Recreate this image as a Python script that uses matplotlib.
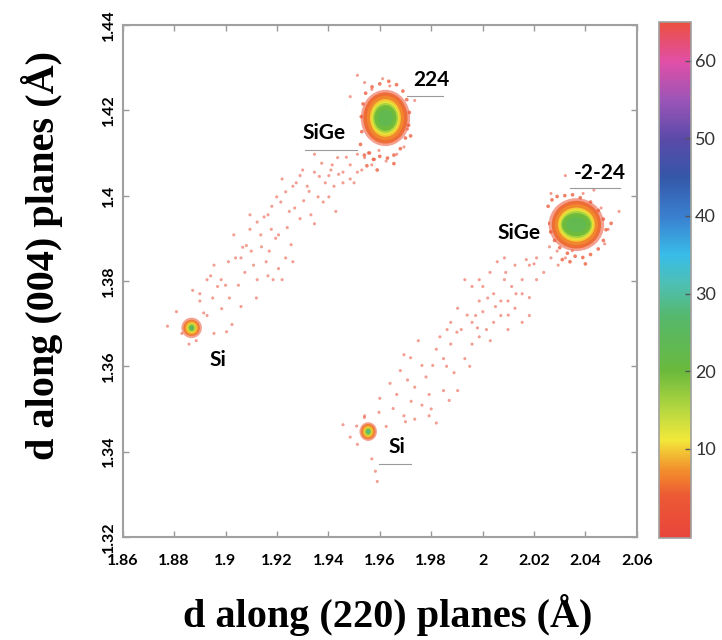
import matplotlib
matplotlib.use('Agg')
import matplotlib.pyplot as plt
from matplotlib.colors import LinearSegmentedColormap, Normalize
from matplotlib.patches import Ellipse, Rectangle
import matplotlib.cm as cm

# axes ticks
x_ticks = [1.86, 1.88, 1.90, 1.92, 1.94, 1.96, 1.98, 2.00, 2.02, 2.04, 2.06]
x_tick_labels = ['1.86', '1.88', '1.9', '1.92', '1.94', '1.96', '1.98', '2', '2.02', '2.04', '2.06']
y_ticks = [1.32, 1.34, 1.36, 1.38, 1.40, 1.42, 1.44]
y_tick_labels = ['1.32', '1.34', '1.36', '1.38', '1.4', '1.42', '1.44']
cbar_ticks = [10, 20, 30, 40, 50, 60]

# sparse counts along the (224) streak: Si -> SiGe
streak224_x = [1.8774, 1.8809, 1.8872, 1.8900, 1.8928, 1.8955, 1.9004, 1.9025, 1.8942, 1.8969,
               1.8955, 1.9032, 1.9039, 1.9060, 1.9081, 1.9095, 1.9109, 1.9123, 1.9158, 1.9165,
               1.9185, 1.9206, 1.9220, 1.9234, 1.9262, 1.9178, 1.9206, 1.9137, 1.9123, 1.9165,
               1.9199, 1.9234, 1.9248, 1.9269, 1.9290, 1.9304, 1.9332, 1.9346, 1.9290, 1.9318,
               1.9346, 1.9360, 1.9388, 1.9402, 1.9422, 1.9429, 1.9415, 1.9436, 1.9457, 1.9485,
               1.9485, 1.9513, 1.9513, 1.9541, 1.9569, 1.9597, 1.9346, 1.9374, 1.9402, 1.9457,
               1.9262, 1.9220, 1.9095, 1.9067, 1.9011, 1.8983, 1.8928, 1.8900, 1.8830, 1.8886,
               1.8858, 1.9513, 1.9541, 1.9569, 1.9611, 1.9639, 1.9485, 1.9471, 1.9736, 1.9708,
               1.9694, 1.9666, 1.9625,
               1.8985, 1.9015, 1.9050, 1.9075, 1.9100, 1.9140, 1.9150, 1.9180, 1.9215, 1.9240,
               1.9275, 1.9300, 1.9325, 1.9365, 1.9380, 1.9410, 1.9440, 1.9470, 1.9500, 1.9530,
               1.9555, 1.9580, 1.9060, 1.9000, 1.8950, 1.8915, 1.9120, 1.9170, 1.9195, 1.9255]
streak224_y = [1.3694, 1.3728, 1.3778, 1.3753, 1.3719, 1.3677, 1.3681, 1.3698, 1.3812, 1.3787,
               1.3837, 1.3908, 1.3854, 1.3854, 1.3883, 1.3955, 1.3837, 1.3803, 1.3845, 1.3812,
               1.3803, 1.3829, 1.3803, 1.3854, 1.3845, 1.3921, 1.3908, 1.3908, 1.3938, 1.3955,
               1.3997, 1.4009, 1.3963, 1.3971, 1.3946, 1.3988, 1.3955, 1.3934, 1.4047, 1.4022,
               1.4055, 1.3997, 1.4030, 1.3997, 1.4022, 1.3963, 1.4072, 1.4089, 1.4055, 1.4072,
               1.4039, 1.4055, 1.4097, 1.4089, 1.4072, 1.4106, 1.4097, 1.4076, 1.4047, 1.4030,
               1.4022, 1.4039, 1.3921, 1.3879, 1.3845, 1.3803, 1.3803, 1.3770, 1.3677, 1.3660,
               1.3652, 1.4282, 1.4265, 1.4249, 1.4274, 1.4257, 1.4232, 1.4207, 1.4223, 1.4156,
               1.4114, 1.4097, 1.4081,
               1.3735, 1.3760, 1.3790, 1.3820, 1.3870, 1.3880, 1.3950, 1.3975, 1.3985, 1.3925,
               1.4030, 1.4060, 1.4010, 1.4045, 1.3985, 1.4060, 1.4050, 1.4090, 1.4030, 1.4060,
               1.4100, 1.4085, 1.3740, 1.3790, 1.3760, 1.3725, 1.3760, 1.3870, 1.3900, 1.3885]

# sparse counts along the (-2-24) streak
streakm224_x = [1.9457, 1.9485, 1.9513, 1.9569, 1.9583, 1.9611, 1.9541, 1.9597, 1.9625, 1.9652,
                1.9666, 1.9694, 1.9708, 1.9736, 1.9764, 1.9792, 1.9820, 1.9848, 1.9764, 1.9806,
                1.9848, 1.9876, 1.9889, 1.9903, 1.9931, 1.9959, 1.9987, 2.0015, 2.0043, 2.0071,
                2.0099, 2.0126, 2.0154, 2.0182, 1.9973, 1.9987, 2.0001, 2.0029, 2.0057, 2.0085,
                2.0113, 2.0126, 2.0154, 2.0182, 2.0210, 2.0238, 2.0266, 2.0294, 2.0322, 2.0349,
                1.9931, 1.9959, 1.9987, 1.9903, 1.9876, 1.9917, 1.9959, 2.0001, 2.0043, 2.0071,
                2.0099, 2.0154, 2.0182, 2.0210, 1.9834, 1.9862, 2.0057, 2.0085, 2.0182, 2.0238,
                2.0266, 2.0322, 2.0391, 2.0433, 2.0461, 2.0531, 2.0489, 2.0475, 1.9722, 1.9694,
                1.9639, 1.9666, 1.9736, 1.9792,
                1.9600, 1.9640, 1.9680, 1.9720, 1.9750, 1.9780, 1.9820, 1.9860, 1.9900, 1.9940,
                1.9980, 2.0020, 2.0050, 2.0090, 2.0130, 2.0170, 2.0200, 2.0230, 2.0260, 2.0290,
                2.0030, 1.9950, 1.9870, 1.9800, 1.9700, 1.9650, 1.9590, 1.9540, 1.9510, 2.0100]
streakm224_y = [1.3463, 1.3434, 1.3417, 1.3383, 1.3354, 1.3400, 1.3484, 1.3492, 1.3459, 1.3501,
                1.3534, 1.3627, 1.3568, 1.3551, 1.3509, 1.3534, 1.3467, 1.3543, 1.3602, 1.3602,
                1.3618, 1.3652, 1.3585, 1.3543, 1.3618, 1.3652, 1.3669, 1.3686, 1.3703, 1.3719,
                1.3686, 1.3736, 1.3703, 1.3719, 1.3719, 1.3753, 1.3787, 1.3820, 1.3845, 1.3803,
                1.3787, 1.3837, 1.3803, 1.3837, 1.3854, 1.3820, 1.3854, 1.3837, 1.3854, 1.3871,
                1.3803, 1.3787, 1.3803, 1.3736, 1.3703, 1.3686, 1.3703, 1.3728, 1.3770, 1.3753,
                1.3753, 1.3770, 1.3761, 1.3803, 1.3669, 1.3686, 1.3871, 1.3854, 1.3871, 1.3887,
                1.4005, 1.4047, 1.4005, 1.4013, 1.3971, 1.3963, 1.3921, 1.3887, 1.3518, 1.3484,
                1.3434, 1.3417, 1.3476, 1.3484,
                1.3525, 1.3560, 1.3590, 1.3620, 1.3660, 1.3575, 1.3640, 1.3600, 1.3680, 1.3720,
                1.3690, 1.3760, 1.3740, 1.3820, 1.3770, 1.3850, 1.3840, 1.3870, 1.3880, 1.3870,
                1.3660, 1.3600, 1.3520, 1.3500, 1.3470, 1.3380, 1.3330, 1.3480, 1.3460, 1.3720]

# fringe counts around the two SiGe peaks
halo224_x = [1.9525, 1.9530, 1.9528, 1.9535, 1.9545, 1.9560, 1.9575, 1.9600, 1.9630, 1.9655,
             1.9680, 1.9700, 1.9712, 1.9715, 1.9705, 1.9690, 1.9665, 1.9635, 1.9600, 1.9570,
             1.9550, 1.9590, 1.9540, 1.9720, 1.9655]
halo224_y = [1.4120, 1.4150, 1.4185, 1.4215, 1.4240, 1.4100, 1.4085, 1.4092, 1.4088, 1.4095,
             1.4110, 1.4135, 1.4165, 1.4195, 1.4225, 1.4245, 1.4260, 1.4268, 1.4262, 1.4255,
             1.4070, 1.4060, 1.4095, 1.4140, 1.4075]
halom224_x = [2.0245, 2.0255, 2.0270, 2.0290, 2.0320, 2.0350, 2.0380, 2.0420, 2.0450, 2.0470,
              2.0480, 2.0470, 2.0450, 2.0420, 2.0390, 2.0360, 2.0330, 2.0300, 2.0280, 2.0265,
              2.0255, 2.0400, 2.0340, 2.0500, 2.0310]
halom224_y = [1.3955, 1.3975, 1.3990, 1.3998, 1.4000, 1.4002, 1.3995, 1.3985, 1.3965, 1.3945,
              1.3920, 1.3895, 1.3875, 1.3862, 1.3855, 1.3858, 1.3865, 1.3878, 1.3895, 1.3915,
              1.3935, 1.3840, 1.3845, 1.3935, 1.3850]

# peak intensity levels (counts) and their half extents (x, y)
peak_names = ['SiGe 224', 'SiGe -2-24', 'Si 224', 'Si -2-24']
peak_cx = [1.9622, 2.0365, 1.8868, 1.9555]
peak_cy = [1.4182, 1.3932, 1.3690, 1.3447]
peak_levels = [[2, 5, 7, 10, 12, 16, 20, 23],
               [2, 5, 7, 10, 12, 16, 20, 23],
               [3, 6, 9, 13, 19, 26],
               [3, 6, 9, 14, 20, 30]]
peak_hx = [[0.0096, 0.0086, 0.0072, 0.0060, 0.0054, 0.0049, 0.0043, 0.0030],
           [0.0108, 0.0096, 0.0084, 0.0072, 0.0066, 0.0061, 0.0056, 0.0040],
           [0.0040, 0.0032, 0.0024, 0.0017, 0.0012, 0.0007],
           [0.0034, 0.0028, 0.0021, 0.0015, 0.0010, 0.0006]]
peak_hy = [[0.0066, 0.0060, 0.0052, 0.0044, 0.0039, 0.0035, 0.0030, 0.0020],
           [0.0062, 0.0056, 0.0048, 0.0040, 0.0036, 0.0032, 0.0027, 0.0018],
           [0.0024, 0.0019, 0.0015, 0.0011, 0.0008, 0.0005],
           [0.0022, 0.0018, 0.0014, 0.0010, 0.0007, 0.0004]]

# colormap (red -> orange -> yellow -> green -> cyan -> blue -> purple -> magenta -> red)
vmin, vmax = -1.5, 65
stops = [(-1.5, '#e8453c'), (4, '#ec5a34'), (7, '#f28c2c'), (11, '#f2e83a'), (15, '#b5d840'),
         (20, '#6ab93c'), (27, '#55b86c'), (31, '#4fbfb0'), (35, '#38bde8'), (40, '#3a7fcf'),
         (45, '#3557a8'), (50, '#5a4aa8'), (55, '#9a55b8'), (60, '#e24fa6'), (65, '#ea5040')]
cmap = LinearSegmentedColormap.from_list(
    'rsm', [((v - vmin) / (vmax - vmin), c) for v, c in stops])
norm = Normalize(vmin=vmin, vmax=vmax)

fig = plt.figure(figsize=(7.22, 6.4), dpi=100)
fig.patch.set_facecolor('white')
ax = fig.add_axes([0.170, 0.161, 0.712, 0.800])

# sparse points
ax.scatter(streak224_x, streak224_y, c=[1] * len(streak224_x), cmap=cmap, norm=norm,
           s=5, alpha=0.55, linewidths=0, zorder=2)
ax.scatter(streakm224_x, streakm224_y, c=[1] * len(streakm224_x), cmap=cmap, norm=norm,
           s=5, alpha=0.55, linewidths=0, zorder=2)

# peaks
for cx, cy, levels, hx, hy in zip(peak_cx, peak_cy, peak_levels, peak_hx, peak_hy):
    for i, (lv, wx, wy) in enumerate(zip(levels, hx, hy)):
        ax.add_patch(Ellipse((cx, cy), 2 * wx, 2 * wy, facecolor=cmap(norm(lv)),
                             edgecolor='none', alpha=0.55 if i == 0 else 0.95, zorder=3))

ax.scatter(halo224_x, halo224_y, c=[3] * len(halo224_x), cmap=cmap, norm=norm,
           s=7, alpha=0.75, linewidths=0, zorder=4)
ax.scatter(halom224_x, halom224_y, c=[3] * len(halom224_x), cmap=cmap, norm=norm,
           s=7, alpha=0.75, linewidths=0, zorder=4)

# labels with white boxes and thin underline
lab_font = dict(family='Lato', fontweight='bold', fontsize=15, color='black',
                ha='center', va='center', zorder=7)
boxes = [
    ('224', 1.9800, 1.4270, (1.9705, 1.4233, 0.0140, 0.0070), True),
    ('SiGe', 1.9385, 1.4147, (1.9310, 1.4106, 0.0202, 0.0104), True),
    ('-2-24', 2.0455, 1.4052, (2.0340, 1.4017, 0.0195, 0.0070), True),
    ('SiGe', 2.0140, 1.3912, (2.0040, 1.3866, 0.0213, 0.0104), False),
    ('Si', 1.8972, 1.3615, (1.8925, 1.3575, 0.0105, 0.0075), False),
    ('Si', 1.9667, 1.3411, (1.9598, 1.3370, 0.0122, 0.0075), True),
]
for txt, tx, ty, (bx, by, bw, bh), uline in boxes:
    ax.add_patch(Rectangle((bx, by), bw, bh, facecolor='white', edgecolor='none', zorder=5))
    if uline:
        ax.plot([bx, bx + bw], [by, by], color='#9a9a9a', lw=0.8, zorder=6)
    ax.text(tx, ty, txt, **lab_font)

ax.set_xlim(1.86, 2.06)
ax.set_ylim(1.32, 1.44)
ax.set_xticks(x_ticks)
ax.set_xticklabels(x_tick_labels)
ax.set_yticks(y_ticks)
ax.set_yticklabels(y_tick_labels, rotation=90, va='center')
for lab in ax.get_xticklabels() + ax.get_yticklabels():
    lab.set_family('Lato')
    lab.set_fontweight('bold')
    lab.set_fontsize(11.5)
ax.tick_params(axis='both', direction='in', length=4, width=1, color='#999999',
               top=True, right=True)
ax.tick_params(axis='x', pad=12)
ax.tick_params(axis='y', pad=5)
for sp in ax.spines.values():
    sp.set_color('#a0a0a0')
    sp.set_linewidth(1.5)

# axis titles
fig.text(388 / 722, 1 - 615 / 640, 'd along (220) planes (Å)', family='Liberation Serif',
         fontweight='bold', fontsize=29, ha='center', va='center')
fig.text(42 / 722, 1 - 255 / 640, 'd along (004) planes (Å)', family='Liberation Serif',
         fontweight='bold', fontsize=29, ha='center', va='center', rotation=90)

# colorbar
cax = fig.add_axes([659 / 722, 1 - 538 / 640, 32 / 722, 516 / 640])
sm = cm.ScalarMappable(norm=norm, cmap=cmap)
cb = fig.colorbar(sm, cax=cax, ticks=cbar_ticks)
cb.outline.set_edgecolor('#a0a0a0')
cb.outline.set_linewidth(1.2)
cax.tick_params(direction='in', length=4, width=1, color='#555555', labelsize=13, pad=3)
for lab in cax.get_yticklabels():
    lab.set_family('Lato')
    lab.set_color('#333333')

plt.savefig('out.png', dpi=100, facecolor='white')
